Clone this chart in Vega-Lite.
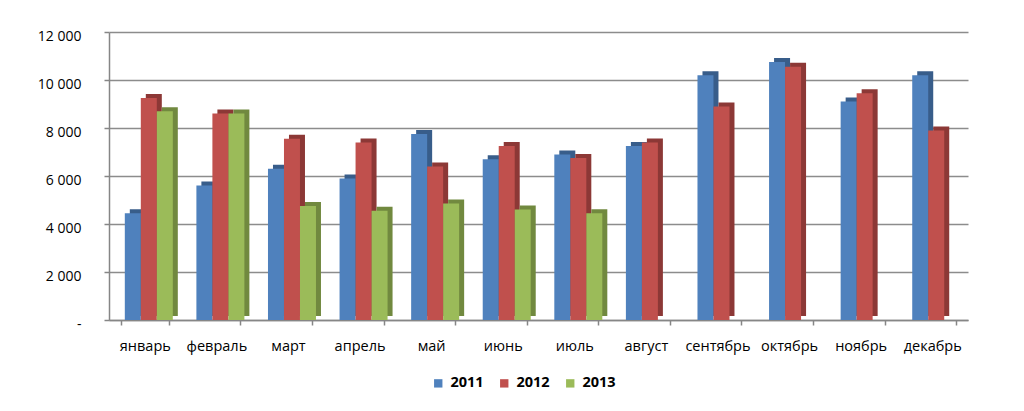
{
  "$schema": "https://vega.github.io/schema/vega-lite/v6.json",
  "width": 859,
  "height": 288,
  "autosize": "none",
  "padding": {"left": 109, "top": 32, "right": 56, "bottom": 91},
  "background": "white",
  "config": {
    "view": {"stroke": null},
    "font": "Open Sans",
    "axis": {"labelFont": "Open Sans", "labelColor": "#000000", "domainColor": "#868686", "tickColor": "#868686", "domainWidth": 1.5, "tickWidth": 1.5}
  },
  "data": {
    "values": [
      {"month": "январь", "year": "2011", "value": 4450},
      {"month": "январь", "year": "2012", "value": 9250},
      {"month": "январь", "year": "2013", "value": 8700},
      {"month": "февраль", "year": "2011", "value": 5600},
      {"month": "февраль", "year": "2012", "value": 8600},
      {"month": "февраль", "year": "2013", "value": 8600},
      {"month": "март", "year": "2011", "value": 6300},
      {"month": "март", "year": "2012", "value": 7550},
      {"month": "март", "year": "2013", "value": 4750},
      {"month": "апрель", "year": "2011", "value": 5900},
      {"month": "апрель", "year": "2012", "value": 7400},
      {"month": "апрель", "year": "2013", "value": 4550},
      {"month": "май", "year": "2011", "value": 7750},
      {"month": "май", "year": "2012", "value": 6400},
      {"month": "май", "year": "2013", "value": 4850},
      {"month": "июнь", "year": "2011", "value": 6700},
      {"month": "июнь", "year": "2012", "value": 7250},
      {"month": "июнь", "year": "2013", "value": 4600},
      {"month": "июль", "year": "2011", "value": 6900},
      {"month": "июль", "year": "2012", "value": 6750},
      {"month": "июль", "year": "2013", "value": 4450},
      {"month": "август", "year": "2011", "value": 7250},
      {"month": "август", "year": "2012", "value": 7400},
      {"month": "сентябрь", "year": "2011", "value": 10200},
      {"month": "сентябрь", "year": "2012", "value": 8900},
      {"month": "октябрь", "year": "2011", "value": 10750},
      {"month": "октябрь", "year": "2012", "value": 10550},
      {"month": "ноябрь", "year": "2011", "value": 9100},
      {"month": "ноябрь", "year": "2012", "value": 9450},
      {"month": "декабрь", "year": "2011", "value": 10200},
      {"month": "декабрь", "year": "2012", "value": 7900}
    ]
  },
  "encoding": {
    "x": {
      "field": "month",
      "type": "nominal",
      "sort": ["январь", "февраль", "март", "апрель", "май", "июнь", "июль", "август", "сентябрь", "октябрь", "ноябрь", "декабрь"],
      "scale": {"paddingInner": 0.33, "paddingOuter": 0.165},
      "axis": {"title": null, "labelAngle": 0, "labelFontSize": 14.5, "tickBand": "extent", "tickSize": 5, "labelPadding": 14, "grid": false}
    },
    "y": {
      "field": "value",
      "type": "quantitative",
      "scale": {"domain": [0, 12000], "nice": false},
      "axis": {
        "title": null,
        "values": [0, 2000, 4000, 6000, 8000, 10000, 12000],
        "labelExpr": "datum.value == 0 ? '-' : replace(format(datum.value, ',d'), ',', ' ')",
        "labelFontSize": 14,
        "labelOffset": 4,
        "tickSize": 5,
        "labelPadding": 23,
        "grid": true,
        "gridColor": "#8C8C8C",
        "gridWidth": 1.5
      }
    }
  },
  "layer": [
    {
      "mark": {"type": "bar", "yOffset": -4},
      "encoding": {
        "xOffset": {
          "field": "year",
          "type": "nominal",
          "scale": {"domain": ["2011", "2012", "2013"], "range": [9, 57], "paddingInner": 0, "paddingOuter": 0}
        },
        "color": {
          "field": "year",
          "type": "nominal",
          "scale": {"domain": ["2011", "2012", "2013"], "range": ["#385D8A", "#8C3836", "#71893F"]},
          "legend": null
        }
      }
    },
    {
      "mark": {"type": "bar"},
      "encoding": {
        "xOffset": {
          "field": "year",
          "type": "nominal",
          "scale": {"domain": ["2011", "2012", "2013"], "range": [4, 52], "paddingInner": 0, "paddingOuter": 0}
        },
        "color": {
          "field": "year",
          "type": "nominal",
          "scale": {"domain": ["2011", "2012", "2013"], "range": ["#4F81BD", "#C0504D", "#9BBB59"]},
          "legend": {
            "title": null,
            "orient": "none",
            "legendX": 322,
            "legendY": 344,
            "direction": "horizontal",
            "symbolType": "square",
            "symbolSize": 70,
            "symbolStrokeWidth": 0,
            "labelFont": "Open Sans",
            "labelFontSize": 14.5,
            "labelFontWeight": "bold",
            "labelColor": "#000000",
            "labelOffset": 5,
            "columnPadding": 13
          }
        }
      }
    }
  ],
  "resolve": {"scale": {"color": "independent", "xOffset": "independent"}}
}
